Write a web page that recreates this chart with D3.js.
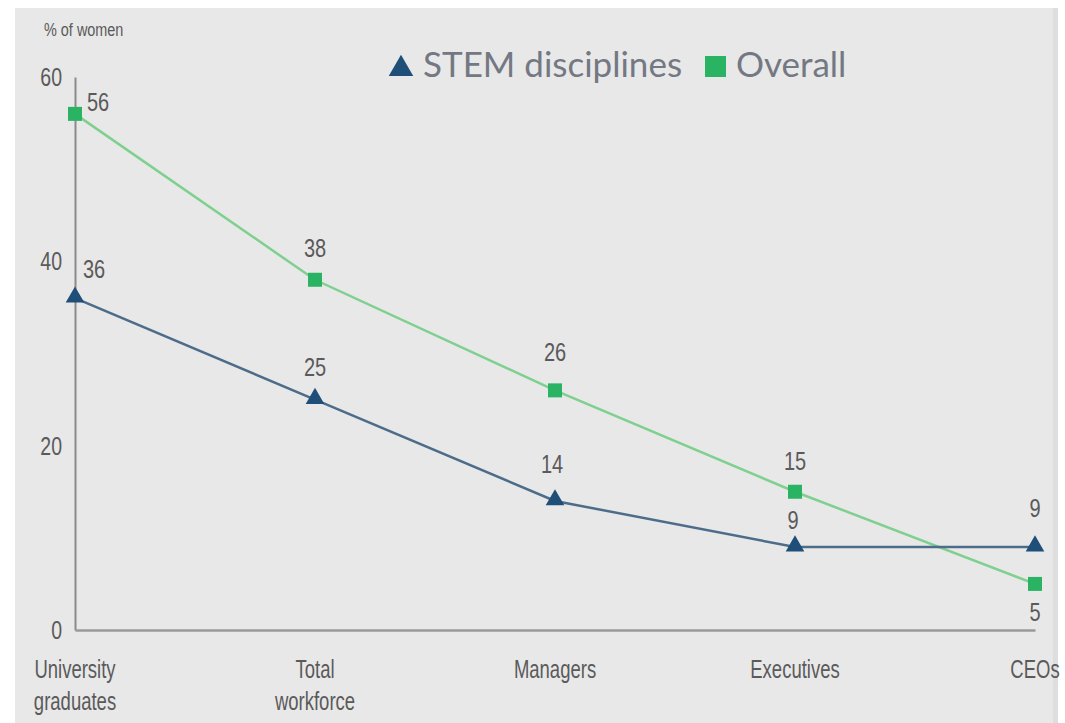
<!DOCTYPE html>
<html><head><meta charset="utf-8">
<script src="https://cdn.jsdelivr.net/npm/d3@7"></script>
<style>
body{margin:0;background:#fff;}
svg{display:block;}
</style></head>
<body>
<svg id="c" width="1065" height="723"></svg>
<script>
const categories = ["University\ngraduates","Total\nworkforce","Managers","Executives","CEOs"];
const stemValues = [36,25,14,9,9];
const overallValues = [56,38,26,15,5];
const yTicks = [0,20,40,60];
const seriesNames = ["STEM disciplines","Overall"];

const svg = d3.select("#c");
const narrow = "'Liberation Sans',Arial,sans-serif";
const txtCol = "#5a5a5a";
svg.append("rect").attr("x",15).attr("y",8).attr("width",1043).attr("height",715).attr("fill","#e8e8e8");
svg.append("rect").attr("x",1053).attr("y",8).attr("width",5).attr("height",715).attr("fill","#dedede");

const x = d3.scalePoint().domain(d3.range(categories.length)).range([75,1035]);
const y = d3.scaleLinear().domain([0,60]).range([630,77]);

// helper: horizontally condensed text
function ntext(parent, px, py, str, size, anchor, sx){
  const g = parent.append("g").attr("transform",`translate(${px},${py}) scale(${sx||0.78},1)`);
  return g.append("text").attr("text-anchor",anchor||"middle").attr("font-family",narrow)
    .attr("font-size",size).attr("fill",txtCol).text(str);
}

// axes
const yAxis = svg.append("g").attr("transform","translate(75,0)")
  .call(d3.axisLeft(y).tickValues(yTicks).tickSize(0).tickFormat(""));
yAxis.select(".domain").attr("stroke","#8a8a8a").attr("stroke-width",2);
yTicks.forEach(t=>ntext(svg,62,y(t)+9,t,25,"end"));

const xAxis = svg.append("g").attr("transform","translate(0,630)")
  .call(d3.axisBottom(x).tickSize(0).tickFormat(""));
xAxis.select(".domain").attr("stroke","#9a9a9a").attr("stroke-width",2.5);

categories.forEach((c,i)=>{
  c.split("\n").forEach((ln,j)=>ntext(svg,x(i),678+j*32,ln,25,"middle",0.74));
});

ntext(svg,44,36,"% of women",19,"start",0.76);

const stemCol = "#1f4f78", stemLine = "#4d6c8a";
const ovCol = "#2bb364", ovLine = "#7fd08f";
const line = d3.line().x((d,i)=>x(i)).y(d=>y(d));

svg.append("path").datum(overallValues).attr("d",line).attr("fill","none").attr("stroke",ovLine).attr("stroke-width",2.5);
svg.append("path").datum(stemValues).attr("d",line).attr("fill","none").attr("stroke",stemLine).attr("stroke-width",2.5);

const tri = d3.symbol().type(d3.symbolTriangle).size(150);
svg.selectAll(".tri").data(stemValues).join("path").attr("class","tri")
  .attr("transform",(d,i)=>`translate(${x(i)},${y(d)-1})`).attr("d",tri).attr("fill",stemCol);
svg.selectAll(".sq").data(overallValues).join("rect").attr("class","sq")
  .attr("x",(d,i)=>x(i)-7).attr("y",d=>y(d)-7).attr("width",14).attr("height",14).attr("fill",ovCol);

// labels
function lab(vals, offs){
  vals.forEach((v,i)=>{
    const o = offs[i];
    ntext(svg, x(i)+o[0], y(v)+o[1], v, 25, "middle", 0.8);
  });
}
lab(overallValues, [[23,-3],[0,-23],[0,-29],[0,-22],[0,37]]);
lab(stemValues, [[19,-20],[0,-24],[-3,-28],[-2,-18],[0,-30]]);

// legend
const lg = svg.append("g");
const lf = "Lato,'Open Sans',sans-serif";
const legCol = "#737883";
lg.append("path").attr("transform","translate(401,69)").attr("d",d3.symbol().type(d3.symbolTriangle).size(260)).attr("fill",stemCol);
lg.append("text").attr("x",423).attr("y",77).attr("font-family",lf).attr("font-size",35).attr("fill",legCol).text(seriesNames[0]);
lg.append("rect").attr("x",705).attr("y",56).attr("width",21).attr("height",21).attr("fill",ovCol);
lg.append("text").attr("x",736).attr("y",77).attr("font-family",lf).attr("font-size",35).attr("fill",legCol).text(seriesNames[1]);
</script>
</body></html>
